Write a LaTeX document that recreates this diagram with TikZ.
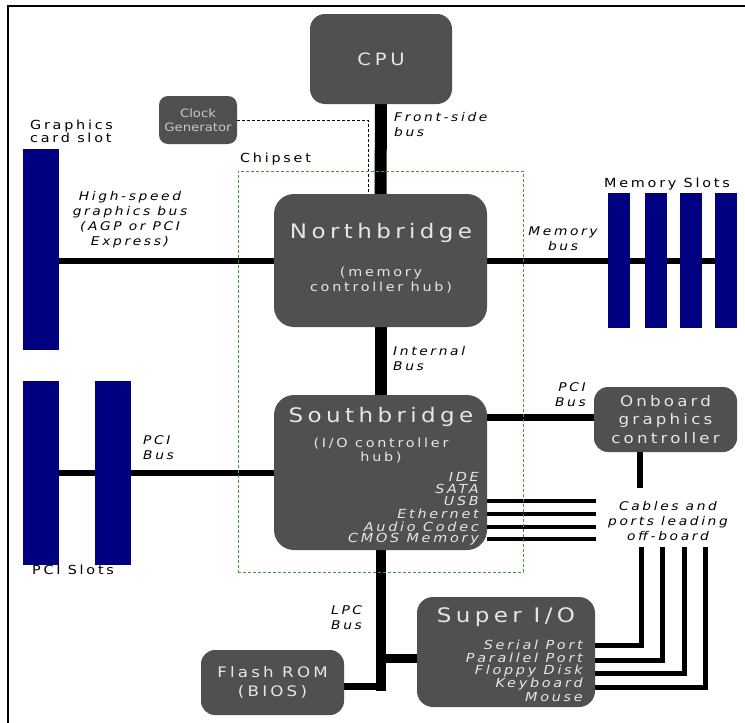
\documentclass[tikz,border=0pt]{standalone}
\usepackage{fontspec}
\setmainfont{DejaVu Sans}[LetterSpace=22, FakeStretch=1.15]
\newfontfamily\plainfont{DejaVu Sans}[FakeStretch=1.15]
\newcommand\fsz[2]{\fontsize{#1pt}{#2pt}\selectfont}
\definecolor{boxgray}{HTML}{505050}
\definecolor{boxtext}{HTML}{E6E6E6}
\definecolor{clocktext}{HTML}{C8C8C8}
\definecolor{slotblue}{HTML}{000080}
\definecolor{chipgreen}{HTML}{3F9A3F}
\pgfdeclarelayer{background}
\pgfsetlayers{background,main}
\tikzset{
  box/.style={fill=boxgray, text=boxtext, inner sep=0pt, align=center},
  slot/.style={fill=slotblue, inner sep=0pt, minimum width=36pt},
  mslot/.style={fill=slotblue, inner sep=0pt, minimum width=22pt, minimum height=135pt},
  ilbl/.style={font=\fsz{12}{15}\itshape, inner sep=0pt},
  rlbl/.style={font=\fsz{12.5}{13}, inner sep=0pt},
  boxtitle/.style={font=\fsz{20}{24}, text=boxtext, inner sep=0pt},
  boxsub/.style={font=\fsz{12.5}{14.5}, text=boxtext, inner sep=0pt, align=center},
  sblist/.style={font=\fsz{12.5}{12}\itshape, text=boxtext, inner sep=0pt, anchor=east},
  bus/.style={line width=#1pt, draw=black},
  clockline/.style={draw=black, line width=1pt, dash pattern=on 3pt off 2pt},
}
\begin{document}
\begin{tikzpicture}[x=1pt,y=-1pt]
\useasboundingbox (0,0) rectangle (745,723);
% boxes
\path (381,59) node[box, minimum width=142pt, minimum height=90pt, rounded corners=15pt, font=\fsz{17}{20}] (cpu) {CPU};
\path (198,120) node[box, minimum width=78pt, minimum height=48pt, rounded corners=9pt, text=clocktext, font=\plainfont\fsz{11.5}{14}] (clk) {Clock\\Generator};
\path (380.5,260.5) node[box, minimum width=213pt, minimum height=133pt, rounded corners=20pt] (nb) {};
\path (380.5,472.5) node[box, minimum width=213pt, minimum height=155pt, rounded corners=20pt] (sb) {};
\path (665.5,419.5) node[box, minimum width=143pt, minimum height=65pt, rounded corners=14pt, font=\fsz{14.5}{18.5}] (og) {Onboard\\graphics\\controller};
\path (506,652) node[box, minimum width=178pt, minimum height=110pt, rounded corners=16pt] (sio) {};
\path (272.5,682.5) node[box, minimum width=143pt, minimum height=65pt, rounded corners=14pt, font=\fsz{14.5}{19.5}] (flash) {Flash ROM\\(BIOS)};
% slots
\node[slot, minimum height=201pt] (gslot) at (41,249.5) {};
\node[slot, minimum height=184pt] (pci1) at (41,473) {};
\node[slot, minimum height=184pt] (pci2) at (113,473) {};
\node[mslot] (ms1) at (619,260.5) {};
\node[mslot] (ms2) at (655.5,260.5) {};
\node[mslot] (ms3) at (691,260.5) {};
\node[mslot] (ms4) at (726,260.5) {};
% chipset region
\node[draw=chipgreen, line width=0.9pt, dash pattern=on 3pt off 2pt, inner sep=0pt,
      minimum width=285pt, minimum height=401pt] (chipset) at (380.5,371.5) {};
\node[rlbl, anchor=west] (chiplbl) at (240,159) {Chipset};
% texts inside boxes
\node[boxtitle] (nbt) at (381,233) {Northbridge};
\node[boxsub] (nbs) at (381,280) {(memory\\controller hub)};
\node[boxtitle] (sbt) at (381,417) {Southbridge};
\node[boxsub] (sbs) at (381,450.5) {(I/O controller\\hub)};
\node[sblist] (ide) at (479,477) {IDE};
\node[sblist] (sata) at (479,489) {SATA};
\node[sblist] (usb) at (479,501) {USB};
\node[sblist] (eth) at (479,514) {Ethernet};
\node[sblist] (audio) at (479,526.5) {Audio Codec};
\node[sblist] (cmos) at (479,539) {CMOS Memory};
\node[boxtitle] (siot) at (506,617) {Super I/O};
\node[sblist] (serial) at (583,645) {Serial Port};
\node[sblist] (parallel) at (583,658) {Parallel Port};
\node[sblist] (floppy) at (583,671) {Floppy Disk};
\node[sblist] (keyb) at (583,684) {Keyboard};
\node[sblist] (mouse) at (583,697) {Mouse};
% outside labels
\node[rlbl, anchor=west, align=left] (gsl) at (30,131) {Graphics\\card slot};
\node[rlbl] (msl) at (667,184) {Memory Slots};
\node[rlbl] (pcisl) at (73,570) {PCI Slots};
\node[ilbl, anchor=west, align=left] (fsbl) at (394,124.5) {Front-side\\bus};
\node[ilbl, align=center] (hsl) at (130,220) {High-speed\\graphics bus\\(AGP or PCI\\Express)};
\node[ilbl, align=center] (mbl) at (563,239) {Memory\\bus};
\node[ilbl, anchor=west, align=left] (ibl) at (393,358.5) {Internal\\Bus};
\node[ilbl, anchor=west, align=left] (pcil) at (143,448) {PCI\\Bus};
\node[ilbl, anchor=east, align=right] (pcir) at (586,395) {PCI\\Bus};
\node[ilbl, align=center] (cables) at (668,521) {Cables and\\ports leading\\off-board};
\node[ilbl, anchor=west, align=left] (lpcl) at (331,617.5) {LPC\\Bus};
% connector end points
\coordinate (ogdown) at (640,488);
\coordinate (p1) at (641,547);
\coordinate (p2) at (662,547);
\coordinate (p3) at (684,547);
\coordinate (p4) at (705,547);
\coordinate (cabl) at (596,521);
% connectors behind boxes and slots
\begin{pgfonlayer}{background}
\draw[bus=12] (cpu.south) -- (nb.north);
\draw[bus=12] (nb.south) -- (sb.north);
\draw[clockline] (clk.east) -| ([xshift=-12pt]nb.north);
\draw[bus=6] (nb.west) -- (nb.west -| gslot.east);
\draw[bus=6] (nb.east) -- (nb.east -| ms4.center);
\draw[bus=6] (sb.west) -- (sb.west -| pci1.east);
\draw[bus=7] ([yshift=2pt]og.west) -- ([yshift=2pt]og.west -| sb.east);
\draw[bus=6] (og.south -| ogdown) -- (ogdown);
\foreach \n in {usb,eth,audio,cmos}
  \draw[bus=4] (\n.east -| sb.east) -- (\n.east -| cabl);
\draw[bus=10, line cap=rect] (sb.south) -- ([yshift=-3.5pt]flash.east -| sb.south);
\draw[bus=7] ([yshift=-3.5pt]flash.east) -- ([yshift=-3.5pt]flash.east -| sb.south);
\draw[bus=9] ([yshift=-6pt]sio.west) -- ([yshift=-6pt]sio.west -| sb.south);
\draw[bus=5] (serial.east -| sio.east) -| (p1);
\draw[bus=5] ([yshift=-2pt]parallel.east -| sio.east) -| (p2);
\draw[bus=5] ([yshift=-2pt]floppy.east -| sio.east) -| (p3);
\draw[bus=5] ([yshift=-3pt]keyb.east -| sio.east) -| (p4);
\end{pgfonlayer}
% frame
\draw[line width=2.5pt] (8,723) -- (8,6) -- (745,6);
\end{tikzpicture}
\end{document}
